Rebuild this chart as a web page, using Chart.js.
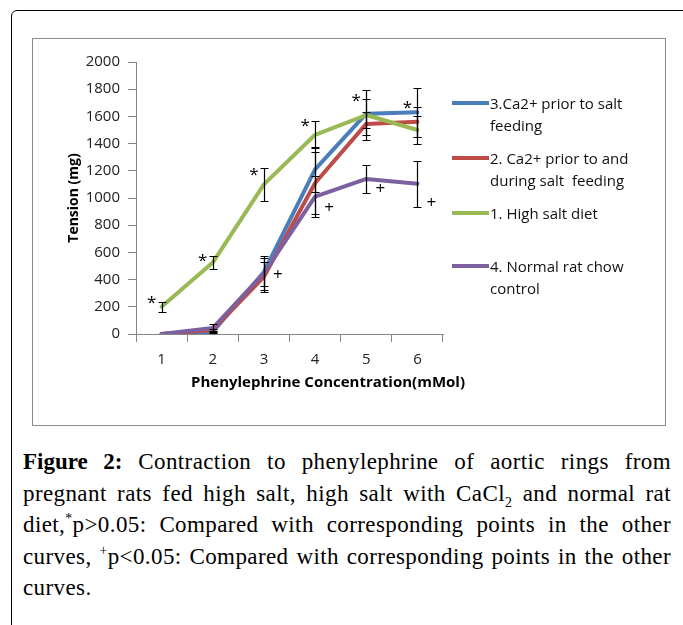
<!DOCTYPE html>
<html>
<head>
<meta charset="utf-8">
<script src="https://cdn.jsdelivr.net/npm/chart.js@4/dist/chart.umd.min.js"></script>
<style>
  html, body { margin: 0; padding: 0; background: #fff; }
  body { width: 683px; height: 625px; position: relative; overflow: hidden; }
  #frame { position: absolute; left: 11px; top: 10px; width: 690px; height: 700px;
           border: 1.5px solid #000; border-radius: 6px; box-sizing: border-box; }
  #inner { position: absolute; left: 32px; top: 38px; width: 634px; height: 388px;
           border: 1.5px solid #8c8c8c; box-sizing: border-box; }
  #chart { position: absolute; left: 32px; top: 38px; }
  #xtitle { position: absolute; left: 178px; top: 371px; width: 300px; text-align: center;
            font: bold 15px "Open Sans", sans-serif; color: #000; white-space: nowrap; }
  #legend { position: absolute; left: 452px; top: 0; font: 15px "Open Sans", sans-serif; color: #111; }
  .li { position: absolute; left: 0; white-space: pre; }
  .li .sw { position: absolute; left: 0; width: 37px; height: 4px; }
  .li .tx { position: absolute; left: 38px; line-height: 22px; }
  #caption { position: absolute; left: 23px; top: 446px; width: 648px;
             font: 23px "Liberation Serif", "Times New Roman", serif; letter-spacing: 0.4px;
             color: #000; line-height: 31.5px; }
  #caption .ln { text-align: justify; text-align-last: justify; white-space: nowrap; }
  #caption .ln.last { text-align-last: left; }
  #caption b { font-weight: bold; letter-spacing: 0; }
  sup, sub { font-size: 60%; line-height: 0; }
</style>
</head>
<body>
<div id="frame"></div>
<div id="inner"></div>
<canvas id="chart" width="634" height="388" style="width:634px;height:388px"></canvas>
<div id="xtitle">Phenylephrine Concentration(mMol)</div>
<div id="legend"></div>
<div id="caption">
  <div class="ln"><b>Figure 2:</b> Contraction to phenylephrine of aortic rings from</div>
  <div class="ln">pregnant rats fed high salt, high salt with CaCl<sub>2</sub> and normal rat</div>
  <div class="ln">diet,<sup>*</sup>p&gt;0.05: Compared with corresponding points in the other</div>
  <div class="ln">curves, <sup>+</sup>p&lt;0.05: Compared with corresponding points in the other</div>
  <div class="ln last">curves.</div>
</div>
<script>
// ---- data ----
const categories = ['1', '2', '3', '4', '5', '6'];
const yTicks = [0, 200, 400, 600, 800, 1000, 1200, 1400, 1600, 1800, 2000];

const ca2PriorName = '3.Ca2+ prior to salt\nfeeding';
const ca2PriorValues = [0, 15, 456, 1210, 1620, 1630];
const ca2PriorErr = [0, 10, 100, 165, 105, 180];

const ca2DuringName = '2. Ca2+ prior to and\nduring salt  feeding';
const ca2DuringValues = [0, 30, 420, 1110, 1545, 1560];
const ca2DuringErr = [0, 10, 110, 230, 85, 110];

const highSaltName = '1. High salt diet';
const highSaltValues = [200, 525, 1100, 1465, 1610, 1500];
const highSaltErr = [35, 45, 120, 100, 185, 100];

const normalName = '4. Normal rat chow\ncontrol';
const normalValues = [0, 44, 448, 1010, 1140, 1105];
const normalErr = [0, 30, 125, 150, 105, 170];

// significance markers (value level at which each mark sits)
const starLevels = [257, 566, 1199, 1559, 1743, 1691];
const plusLevels = [null, null, 434, 926, 1066, 963];

// ---- chart ----
const FONT = '"Open Sans", sans-serif';
const AXIS = '#868686';

const datasets = [
  { label: ca2PriorName, data: ca2PriorValues, err: ca2PriorErr, borderColor: '#4A7EBB', order: 3 },
  { label: ca2DuringName, data: ca2DuringValues, err: ca2DuringErr, borderColor: '#BE4B48', order: 2 },
  { label: highSaltName, data: highSaltValues, err: highSaltErr, borderColor: '#98B954', order: 1 },
  { label: normalName, data: normalValues, err: normalErr, borderColor: '#7D60A0', order: 0 }
].map(d => Object.assign(d, {
  backgroundColor: d.borderColor, borderWidth: 4, pointRadius: 0, tension: 0,
  borderCapStyle: 'round', borderJoinStyle: 'round'
}));

const errorBars = {
  id: 'errorBars',
  afterDatasetsDraw(chart) {
    const ctx = chart.ctx, ys = chart.scales.y;
    ctx.save();
    ctx.strokeStyle = '#000';
    ctx.lineWidth = 1.2;
    chart.data.datasets.forEach((ds, i) => {
      const meta = chart.getDatasetMeta(i);
      ds.err.forEach((e, j) => {
        if (!e) return;
        const x = Math.round(meta.data[j].x) + 0.5;
        const v = ds.data[j];
        const yt = Math.round(ys.getPixelForValue(v + e)) + 0.5;
        const yb = Math.round(ys.getPixelForValue(Math.max(v - e, 0))) + 0.5;
        ctx.beginPath();
        ctx.moveTo(x, yt); ctx.lineTo(x, yb);
        ctx.moveTo(x - 4, yt); ctx.lineTo(x + 4, yt);
        ctx.moveTo(x - 4, yb); ctx.lineTo(x + 4, yb);
        ctx.stroke();
      });
    });
    ctx.restore();
  }
};

const marks = {
  id: 'marks',
  afterDatasetsDraw(chart) {
    const ctx = chart.ctx, xs = chart.scales.x, ys = chart.scales.y;
    ctx.save();
    ctx.fillStyle = '#000';
    ctx.textAlign = 'center';
    ctx.textBaseline = 'middle';
    categories.forEach((c, j) => {
      const x = xs.getPixelForValue(j);
      if (starLevels[j] != null) {
        ctx.font = '17px ' + FONT;
        ctx.fillText('*', x - 10, ys.getPixelForValue(starLevels[j]) + 4);
      }
      if (plusLevels[j] != null) {
        ctx.font = '17px ' + FONT;
        ctx.fillText('+', x + 14, ys.getPixelForValue(plusLevels[j]));
      }
    });
    ctx.restore();
  }
};

const chart = new Chart(document.getElementById('chart'), {
  type: 'line',
  data: { labels: categories, datasets },
  options: {
    responsive: false,
    animation: false,
    events: [],
    layout: { padding: { left: 33, right: 223, top: 24, bottom: 36 } },
    plugins: { legend: { display: false }, tooltip: { enabled: false } },
    scales: {
      x: {
        offset: true,
        grid: { offset: true, drawOnChartArea: false, tickLength: 8, color: AXIS, tickColor: AXIS },
        border: { color: AXIS, width: 1 },
        ticks: { font: { family: FONT, size: 15 }, color: '#222', padding: 9, maxRotation: 0 },
        afterFit(s) { s.height = 56; }
      },
      y: {
        min: 0, max: 2000,
        afterBuildTicks(s) { s.ticks = yTicks.map(v => ({ value: v })); },
        grid: { drawOnChartArea: false, tickLength: 8, color: AXIS, tickColor: AXIS },
        border: { color: AXIS, width: 1 },
        ticks: { font: { family: FONT, size: 15 }, color: '#222', padding: 8,
                 callback: v => String(v) },
        title: { display: true, text: 'Tension (mg)', font: { family: FONT, size: 14, weight: 'bold' },
                 color: '#000', padding: { top: 1, bottom: 0 } },
        afterFit(s) { s.width = 71; }
      }
    }
  },
  plugins: [errorBars, marks]
});

// ---- HTML legend built from the datasets ----
const legendY = [103, 158, 213, 266];
const legend = document.getElementById('legend');
datasets.forEach((d, i) => {
  const li = document.createElement('div');
  li.className = 'li';
  li.style.top = (legendY[i]) + 'px';
  const sw = document.createElement('div');
  sw.className = 'sw';
  sw.style.background = d.borderColor;
  sw.style.top = '-2px';
  const tx = document.createElement('div');
  tx.className = 'tx';
  tx.style.top = '-11px';
  tx.textContent = d.label;
  li.appendChild(sw); li.appendChild(tx);
  legend.appendChild(li);
});
</script>
</body>
</html>
